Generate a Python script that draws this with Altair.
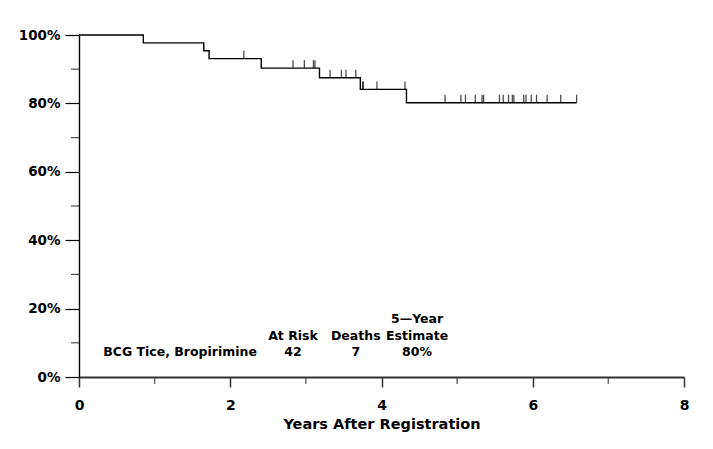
import altair as alt
import pandas as pd

# Kaplan-Meier steps (years, survival fraction)
step_times = [0.0, 0.85, 1.65, 1.72, 2.41, 3.18, 3.72, 4.33, 6.58]
step_surv = [1.0, 0.977, 0.954, 0.931, 0.903, 0.875, 0.841, 0.802, 0.802]

# censored observations (years)
censor_times = [2.18, 2.83, 2.98, 3.10, 3.12, 3.32, 3.47, 3.53, 3.66, 3.75, 3.76,
                3.94, 4.31, 4.84, 5.05, 5.11, 5.24, 5.33, 5.35, 5.56, 5.61, 5.68,
                5.73, 5.75, 5.88, 5.91, 5.98, 6.05, 6.19, 6.37, 6.58]

# summary table
group_label = ["BCG Tice, Bropirimine"]
header_labels = ["5\u2014Year", "At Risk", "Deaths", "Estimate"]
row_values = ["42", "7", "80%"]

x_major = [0, 2, 4, 6, 8]
x_minor = [1, 3, 5, 7]
y_major = [0, 0.2, 0.4, 0.6, 0.8, 1.0]
y_minor = [0.1, 0.3, 0.5, 0.7, 0.9]

FONT = "DejaVu Sans"

curve_df = pd.DataFrame({"t": step_times, "s": step_surv})


def surv_at(t):
    val = step_surv[0]
    for tt, ss in zip(step_times[:-1], step_surv[:-1]):
        if tt <= t:
            val = ss
    return val


censor_df = pd.DataFrame({"t": censor_times, "s": [surv_at(t) for t in censor_times]})

# annotation table (positions in data units)
head_df = pd.DataFrame({
    "label": header_labels,
    "t": [4.47, 2.83, 3.66, 4.47],
    "s": [0.170, 0.120, 0.120, 0.120],
})
row_df = pd.DataFrame({
    "label": row_values,
    "t": [2.83, 3.66, 4.47],
    "s": [0.073, 0.073, 0.073],
})
group_df = pd.DataFrame({"label": group_label, "t": [0.32], "s": [0.073]})

xscale = alt.Scale(domain=[0, 8], nice=False, zero=False)
yscale = alt.Scale(domain=[0, 1], nice=False)

xaxis = alt.Axis(
    values=x_major,
    title="Years After Registration",
    format="d",
    tickSize=10,
    labelPadding=11,
    labelFlush=False,
    labelFont=FONT, labelFontSize=14, labelFontWeight="bold", labelColor="black",
    titleFont=FONT, titleFontSize=14.5, titleFontWeight="bold", titleColor="black",
    titlePadding=5,
    domainColor="#333333", domainWidth=2, tickColor="#333333", tickWidth=1.5,
    grid=False,
)
yaxis = alt.Axis(
    values=y_major,
    title=None,
    format=".0%",
    tickSize=14,
    labelPadding=5,
    labelFlush=False,
    labelFont=FONT, labelFontSize=13.5, labelFontWeight="bold", labelColor="black",
    domain=True, domainColor="black", domainWidth=1.4, tickColor="black", tickWidth=1.2,
    grid=False,
)

curve = alt.Chart(curve_df).mark_line(
    interpolate="step-after", color="black", strokeWidth=1.4
).encode(
    x=alt.X("t:Q", scale=xscale, axis=xaxis),
    y=alt.Y("s:Q", scale=yscale, axis=yaxis),
)

censors = alt.Chart(censor_df).mark_tick(
    orient="vertical", size=8, thickness=1.3, color="black", yOffset=-4
).encode(x="t:Q", y="s:Q")

# minor axis ticks
ymin = alt.Chart(pd.DataFrame({"v": y_minor})).mark_tick(
    orient="horizontal", size=8, thickness=1.2, color="black", clip=False
).encode(y="v:Q", x=alt.value(-4))
xmin = alt.Chart(pd.DataFrame({"v": x_minor})).mark_tick(
    orient="vertical", size=7, thickness=1.5, color="#333333", clip=False
).encode(x="v:Q", y=alt.value(345.5))

text_props = dict(font=FONT, fontSize=12.5, fontWeight="bold", color="black", baseline="middle")

head = alt.Chart(head_df).mark_text(align="center", **text_props).encode(
    x="t:Q", y="s:Q", text="label:N")
row = alt.Chart(row_df).mark_text(align="center", **text_props).encode(
    x="t:Q", y="s:Q", text="label:N")
grp = alt.Chart(group_df).mark_text(align="left", **text_props).encode(
    x="t:Q", y="s:Q", text="label:N")

chart = alt.layer(curve, censors, ymin, xmin, head, row, grp).properties(
    width=605, height=342,
    background="white",
    autosize=alt.AutoSizeParams(type="none"),
    padding={"left": 71, "top": 27, "right": 20, "bottom": 60},
).configure_view(stroke=None)

chart.save("out.html", embed_options={"renderer": "svg", "actions": False})
